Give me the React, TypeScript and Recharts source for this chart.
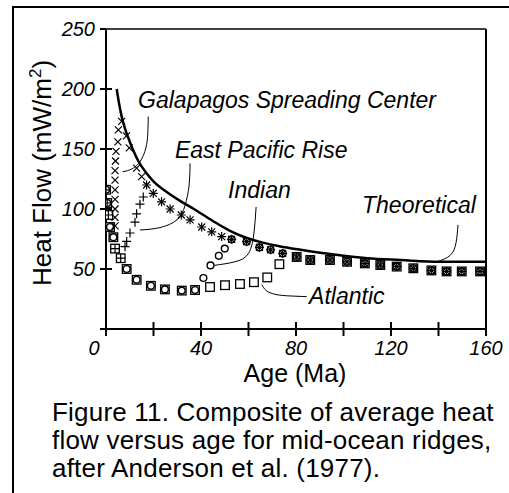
import React from "react";
import { ComposedChart, Line, Scatter, XAxis, YAxis, ReferenceLine } from "recharts";

// plot box edges in page pixels (chart sits at page 0,0)
const PLOT_LEFT = 106;
const PLOT_BOTTOM = 329;
const FONT = '"Liberation Sans", Arial, Helvetica, sans-serif';

// theoretical cooling curve
const theoryAge = [4.5, 5.5, 6.6, 8, 10, 13.6, 17, 20, 25, 31, 37, 45, 52, 59, 66, 73, 82, 96, 110, 124, 140, 160];
const theoryHF = [200, 188, 177, 167, 156, 140, 130, 123, 115, 107, 100, 90, 82, 76, 72, 69, 66, 62, 59, 57.5, 56, 56];

// points shared by several ridges (overlapping symbols)
const youngStack: [number, number][] = [[0, 116], [0.5, 105]];
const midAsterisk: [number, number][] = [
  [17.1, 120], [19.9, 113], [23.4, 106], [27, 100], [31.7, 95], [35.4, 91], [40.3, 85], [44.5, 81], [48.7, 77],
];
const midIndian: [number, number][] = [[52.9, 74.7], [59.2, 72.8], [64.6, 68], [69.3, 66], [74.4, 63]];
const oldAll: [number, number][] = [
  [80.3, 60], [86, 57.5], [94.3, 57.5], [101.5, 56], [109, 54.7], [115.5, 53.3], [122.4, 52], [129.4, 50.6],
  [137, 48.8], [143.4, 48], [149.8, 48], [157.5, 48],
];

const galapagos: [number, number][] = [
  [6.6, 173], [5.2, 166], [8.6, 161], [5.0, 156], [9.8, 151], [4.2, 148], [4.0, 140], [12.9, 134], [3.8, 132],
  [15.0, 127], [3.8, 124], [3.8, 116], [3.8, 108], [3.8, 100], [3.8, 93], [3.8, 86],
  ...midAsterisk, ...midIndian, ...oldAll,
];
const eastPacific: [number, number][] = [
  ...youngStack, [1.0, 95], [3.8, 67], [6.2, 59], [8, 68.6], [8.7, 73], [10.1, 80], [12.2, 89], [12.9, 96],
  [14.3, 104], [15.7, 110], ...midAsterisk, ...midIndian, ...oldAll,
];
const indian: [number, number][] = [
  ...youngStack, [1.7, 85], [3.1, 76.5], [8.7, 50], [12.9, 41], [18.9, 36], [24.8, 33], [31.9, 32], [37.5, 32.5],
  [41, 42.5], [44, 53], [47.5, 61], [50, 67], ...midIndian, ...oldAll,
];
const atlantic: [number, number][] = [
  ...youngStack, [1.0, 95], [1.7, 85], [3.1, 76.5], [3.8, 67], [6.2, 59], [8.7, 50], [12.9, 41], [18.9, 36],
  [24.8, 33], [31.9, 32], [37.5, 32.5], [43.8, 35], [50.1, 36.5], [56.4, 37.5], [62.3, 39], [67.9, 43], [73, 54],
  ...oldAll,
];

// annotation labels and their leader lines
const labelText = ["Galapagos Spreading Center", "East Pacific Rise", "Indian", "Theoretical", "Atlantic"];
const labelAge = [13.5, 29, 51.4, 107.8, 85.5];
const labelHF = [184, 142.5, 109, 96.7, 21];
const leaders: [number, number][][] = [
  [[17.8, 177], [17.6, 163], [16.8, 151], [14.5, 140], [11, 133.5], [7, 131]],
  [[35.4, 138], [35, 120], [33.3, 103], [29.9, 91], [22.7, 84.5], [14.3, 82.5]],
  [[63.2, 101.7], [62.3, 80], [60, 63], [54.3, 56], [45.5, 53]],
  [[148.2, 86.7], [147.4, 72], [145, 61.5], [139.4, 56]],
  [[65.6, 37], [67.5, 32], [71, 29], [76, 27.7], [84.5, 27]],
];

const xTicks = [0, 20, 40, 60, 80, 100, 120, 140, 160];
const yTicks = [0, 50, 100, 150, 200, 250];

const toRows = (pts: [number, number][]) => pts.map(([x, y]) => ({ x, y }));
const theoryRows = theoryAge.map((x, i) => ({ x, y: theoryHF[i] }));
const labelRows = labelText.map((text, i) => ({ x: labelAge[i], y: labelHF[i], text }));

const SquareMark = (p: any) => (
  <rect x={p.cx - 4.3} y={p.cy - 4.3} width={8.6} height={8.6} fill="#fff" stroke="#000" strokeWidth={1.3} />
);
const CircleMark = (p: any) => <circle cx={p.cx} cy={p.cy} r={3.4} fill="#fff" stroke="#000" strokeWidth={1.4} />;
const PlusMark = (p: any) => (
  <path d={`M${p.cx - 4.5},${p.cy}H${p.cx + 4.5}M${p.cx},${p.cy - 4.5}V${p.cy + 4.5}`} stroke="#000" strokeWidth={1.2} />
);
const CrossMark = (p: any) => (
  <path
    d={`M${p.cx - 3.5},${p.cy - 3.5}L${p.cx + 3.5},${p.cy + 3.5}M${p.cx + 3.5},${p.cy - 3.5}L${p.cx - 3.5},${p.cy + 3.5}`}
    stroke="#000"
    strokeWidth={1.2}
  />
);
const LabelMark = (p: any) => (
  <text x={p.cx} y={p.cy} fontFamily={FONT} fontSize={23} fontStyle="italic" fill="#000">
    {p.payload.text}
  </text>
);

const XTick = (p: any) => {
  const cx = p.payload.coordinate;
  const v = p.payload.value;
  return (
    <g>
      <line x1={cx} x2={cx} y1={PLOT_BOTTOM - 7} y2={PLOT_BOTTOM + 7} stroke="#000" strokeWidth={2} />
      {v % 40 === 0 && (
        <text x={v === 0 ? cx - 12 : cx} y={355} textAnchor="middle" fontFamily={FONT} fontSize={20} fontStyle="italic">
          {v}
        </text>
      )}
    </g>
  );
};

const YTick = (p: any) => {
  const cy = p.payload.coordinate;
  const v = p.payload.value;
  return (
    <g>
      <line x1={PLOT_LEFT - 6} x2={v === 250 ? PLOT_LEFT : PLOT_LEFT + 6} y1={cy} y2={cy} stroke="#000" strokeWidth={2} />
      {v > 0 && (
        <text x={95} y={cy + 7} textAnchor="end" fontFamily={FONT} fontSize={20} fontStyle="italic">
          {v}
        </text>
      )}
    </g>
  );
};

export default function App() {
  return (
    <div style={{ position: "absolute", left: 0, top: 0, width: 509, height: 493, overflow: "hidden" }}>
      <div
        style={{
          position: "absolute",
          left: 12,
          top: 6,
          width: 497,
          height: 487,
          borderLeft: "2px solid #000",
          borderTop: "2px solid #000",
          boxSizing: "border-box",
        }}
      />
      <div style={{ position: "absolute", left: 0, top: 0 }}>
        <ComposedChart width={509} height={400} margin={{ top: 29, right: 23, bottom: 31, left: 0 }}>
          <XAxis
            type="number"
            dataKey="x"
            domain={[0, 160]}
            ticks={xTicks}
            interval={0}
            allowDataOverflow
            height={40}
            tickLine={false}
            axisLine={{ stroke: "#000", strokeWidth: 2 }}
            tick={<XTick />}
            label={{
              content: () => (
                <text x={295} y={382} textAnchor="middle" fontFamily={FONT} fontSize={25}>
                  Age (Ma)
                </text>
              ),
            }}
          />
          <YAxis
            type="number"
            dataKey="y"
            domain={[0, 250]}
            ticks={yTicks}
            interval={0}
            allowDataOverflow
            width={106}
            tickLine={false}
            axisLine={{ stroke: "#000", strokeWidth: 2 }}
            tick={<YTick />}
            label={{
              content: () => (
                <text transform="translate(51,173) rotate(-90)" textAnchor="middle" fontFamily={FONT} fontSize={26}>
                  Heat Flow (mW/m
                  <tspan fontSize={17} dy={-10}>2</tspan>
                  <tspan dy={10}>)</tspan>
                </text>
              ),
            }}
          />
          <ReferenceLine y={250} stroke="#000" strokeWidth={1.5} />
          <ReferenceLine x={160} stroke="#000" strokeWidth={2} />
          <Line data={theoryRows} dataKey="y" type="monotone" stroke="#000" strokeWidth={2.5} dot={false} isAnimationActive={false} />
          {leaders.map((pts, i) => (
            <Line key={i} data={toRows(pts)} dataKey="y" type="natural" stroke="#000" strokeWidth={1} dot={false} isAnimationActive={false} />
          ))}
          <Scatter data={toRows(atlantic)} shape={SquareMark} isAnimationActive={false} />
          <Scatter data={toRows(indian)} shape={CircleMark} isAnimationActive={false} />
          <Scatter data={toRows(eastPacific)} shape={PlusMark} isAnimationActive={false} />
          <Scatter data={toRows(galapagos)} shape={CrossMark} isAnimationActive={false} />
          <Scatter data={labelRows} shape={LabelMark} isAnimationActive={false} />
        </ComposedChart>
      </div>
      <div
        style={{
          position: "absolute",
          left: 52,
          top: 398,
          fontFamily: FONT,
          fontSize: 26,
          lineHeight: "28px",
          letterSpacing: "0.2px",
          whiteSpace: "nowrap",
          color: "#000",
        }}
      >
        Figure 11. Composite of average heat
        <br />
        flow versus age for mid-ocean ridges,
        <br />
        after Anderson et al. (1977).
      </div>
    </div>
  );
}
